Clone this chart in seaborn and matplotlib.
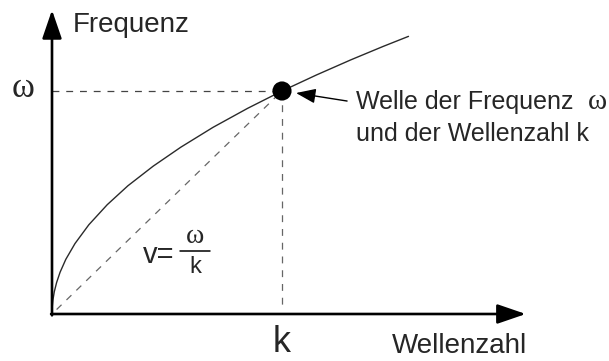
import matplotlib
matplotlib.use('Agg')
import matplotlib.pyplot as plt
import seaborn as sns
import pandas as pd

# Dispersionskurve (Einheiten: k = 1, omega = 1)
wellenzahl = [0.0, 0.001, 0.004, 0.01, 0.02, 0.035, 0.06, 0.1, 0.16, 0.24, 0.33, 0.44,
              0.56, 0.70, 0.85, 1.0, 1.15, 1.30, 1.44, 1.55]
frequenz = [0.0, 0.032, 0.063, 0.10, 0.141, 0.187, 0.245, 0.316, 0.40, 0.49, 0.575, 0.663,
            0.748, 0.837, 0.922, 1.0, 1.072, 1.14, 1.20, 1.245]

# Arbeitspunkt (k, omega)
punkt_k = [1.0]
punkt_omega = [1.0]

# Achsenlänge
x_max = 2.06
y_max = 1.363

sns.set_style('white')
plt.rcParams['font.family'] = ['Liberation Sans', 'DejaVu Sans']

fig = plt.figure(figsize=(6.09, 3.61), dpi=100)
ax = fig.add_axes([0, 0, 1, 1])
ax.set_xlim(-52 / 230, (609 - 52) / 230)
ax.set_ylim((314 - 361) / 223, 314 / 223)
ax.axis('off')

df = pd.DataFrame({'k': wellenzahl, 'omega': frequenz})
sns.lineplot(data=df, x='k', y='omega', ax=ax, color='#2a2a2a', lw=1.0, sort=False)

# Hilfslinien
k0, w0 = punkt_k[0], punkt_omega[0]
ax.plot([0, k0], [w0, w0], color='#444444', lw=0.9, dashes=(5.5, 5.5))
ax.plot([k0, k0], [w0, 0.04], color='#666666', lw=0.9, dashes=(5.5, 5.5))
ax.plot([0.02, k0], [0.02, w0], color='#666666', lw=0.9, dashes=(5.5, 5.5))

sns.scatterplot(x=punkt_k, y=punkt_omega, ax=ax, color='black', s=190,
                edgecolor='none', zorder=5)

# Achsen mit Pfeilen
arrow = dict(arrowstyle='-|>,head_length=1.75,head_width=0.6', color='black',
             lw=1.9, mutation_scale=10, shrinkA=0, shrinkB=0)
ax.annotate('', xy=(x_max, 0), xytext=(-0.004, 0), arrowprops=arrow)
ax.annotate('', xy=(0, y_max), xytext=(0, -0.006), arrowprops=arrow)

ax.text(0.091, 1.265, 'Frequenz', fontsize=20, ha='left', va='baseline')
ax.text(2.065, -0.175, 'Wellenzahl', fontsize=20, ha='right', va='baseline')
ax.text(k0, -0.170, 'k', fontsize=26, ha='center', va='baseline')
ax.text(-0.126, 0.975, 'ω', fontsize=25, family='Liberation Serif',
        ha='center', va='baseline')

# Beschriftung des Punktes
ax.annotate('', xy=(1.061, 0.991), xytext=(1.283, 0.955),
            arrowprops=dict(arrowstyle='-|>,head_length=1.2,head_width=0.45',
                            color='black', lw=1.0, mutation_scale=10,
                            shrinkA=0, shrinkB=0))
ax.text(1.322, 0.919, 'Welle der Frequenz', fontsize=18, ha='left', va='baseline')
ax.text(2.412, 0.919, 'ω', fontsize=21, family='Liberation Serif',
        ha='right', va='baseline')
ax.text(1.322, 0.776, 'und der Wellenzahl k', fontsize=18, ha='left', va='baseline')

# Phasengeschwindigkeit v = omega / k
ax.text(0.395, 0.229, 'v=', fontsize=21, ha='left', va='baseline')
ax.plot([0.557, 0.687], [0.283, 0.283], color='black', lw=1.1)
ax.text(0.622, 0.318, 'ω', fontsize=20, family='Liberation Serif',
        ha='center', va='baseline')
ax.text(0.622, 0.184, 'k', fontsize=17, ha='center', va='baseline')

fig.savefig('out.png', dpi=100)
